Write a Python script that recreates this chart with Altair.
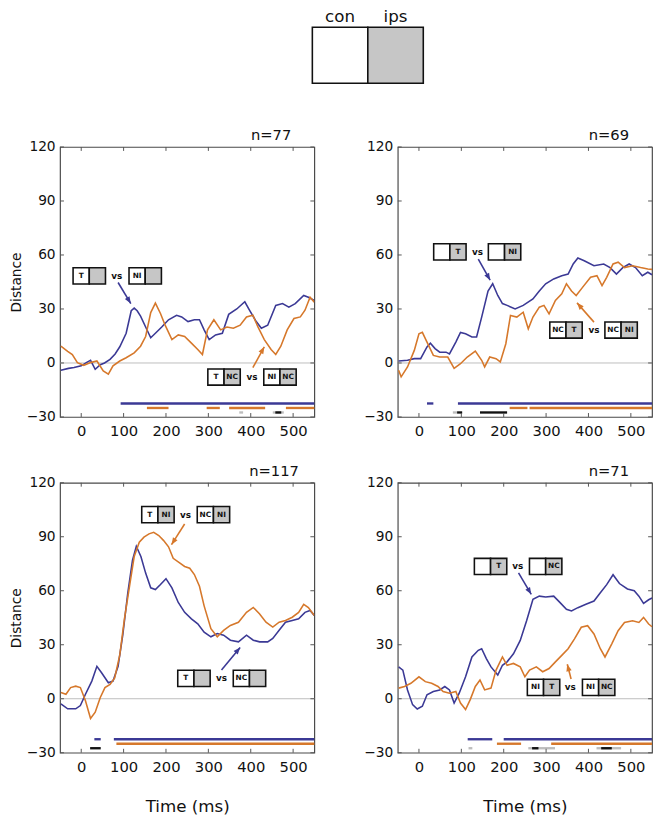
import math
import altair as alt
import pandas as pd

BLUE = "#3b3995"
ORANGE = "#d6782b"
GRAY_FILL = "#c6c6c6"
FONT = "DejaVu Sans"

X_TICKS = [0, 100, 200, 300, 400, 500]
Y_TICKS = [-30, 0, 30, 60, 90, 120]
X_DOMAIN = [-50, 550]
Y_DOMAIN = [-30, 120]
W, H = 259, 275

LEGEND_SIDES = ["con", "ips"]
LEGEND_FILLS = ["#ffffff", GRAY_FILL]

# ---------------- panel 1 (n=77) ----------------
p1_blue_t = [-48, -30, -17, 0, 14, 22, 33, 45, 55, 68, 80, 91, 106, 118, 125, 132, 140, 152, 164, 175,
             190, 206, 225, 237, 252, 267, 279, 290, 302, 317, 333, 348, 367, 386, 398, 413, 425, 440, 459, 475,
             490, 505, 525, 536, 550]
p1_blue_v = [-4, -3, -2.5, -1.6, 0.5, 1.5, -3.5, -1, 0, 2, 5, 9, 16.5, 29, 30.5, 29, 26, 20, 14, 16.5,
             20, 24, 26.5, 25.6, 23, 24, 24, 18.4, 13, 15.6, 16.5, 27, 30, 34, 29, 23, 19.3, 21, 32, 33,
             31, 33, 37.5, 36.5, 34.7]
p1_orange_t = [-48, -32, -21, -9, 6, 22, 37, 52, 64, 75, 91, 106, 125, 140, 152, 164, 175, 187, 198, 214,
               229, 244, 260, 275, 286, 298, 313, 329, 344, 359, 375, 390, 405, 417, 432, 448, 459, 471, 486, 502,
               517, 528, 540, 550]
p1_orange_v = [9.3, 6.5, 4.7, 0.2, -1.3, 0.2, 1.1, -4.4, -6.2, -1.6, 1.1, 2.9, 5.6, 9.3, 14.7, 28, 33.3, 27.5, 21, 13,
               15.6, 14.7, 11, 7.5, 4.7, 18.4, 24, 18.4, 20, 19.3, 21, 25.6, 26.5, 20, 13, 7.5, 4.7, 9.3, 18.4, 24.7,
               25.6, 29.3, 36.5, 33.8]

# ---------------- panel 2 (n=69) ----------------
p2_blue_t = [-48, -27, -11, 4, 19, 27, 38, 49, 64, 72, 87, 98, 110, 125, 136, 148, 163, 174, 186, 197,
             208, 227, 246, 269, 284, 299, 318, 337, 352, 364, 375, 390, 413, 436, 451, 466, 481, 496, 511, 527,
             540, 550]
p2_blue_v = [1.1, 1.5, 2.4, 2.4, 8.9, 11, 8, 6, 6, 5, 11.6, 17, 16.2, 14.4, 14.4, 25.5, 40, 44, 37.5, 33,
             32, 30, 32, 35.6, 40, 44, 46.7, 48.5, 49.4, 55, 58.3, 56.8, 54, 55, 53, 49.4, 53, 55, 53, 48.5,
             50.4, 49]
p2_orange_t = [-48, -42, -27, -11, 0, 8, 19, 34, 49, 68, 83, 98, 114, 133, 148, 155, 167, 182, 192, 205,
               216, 231, 246, 258, 269, 284, 295, 307, 322, 337, 348, 360, 371, 386, 405, 420, 432, 443, 458, 470,
               485, 504, 523, 540, 550]
p2_orange_v = [-4, -7.7, -2.2, 7, 16.2, 17, 11.6, 4.2, 3.3, 3.3, -3, -0.4, 3.3, 6.6, 1.5, -2.2, 3.3, 2.4, 0.6, 10.7,
               26.4, 25.5, 28.2, 19, 25.5, 31, 32, 27.3, 34.7, 38.4, 44, 40, 37.5, 42, 47.6, 48.5, 43, 47.6, 55, 56,
               53, 54, 53, 52.2, 52]

# ---------------- panel 3 (n=117) ----------------
p3_blue_t = [-48, -32, -13, -2, 10, 25, 37, 48, 64, 75, 87, 98, 110, 121, 130, 141, 152, 164, 175, 187,
             200, 214, 229, 244, 260, 275, 290, 306, 321, 336, 352, 371, 390, 406, 421, 440, 452, 467, 482, 498,
             513, 528, 540, 550]
p3_blue_v = [-2.9, -5.6, -5.6, -3.8, 2.5, 9.8, 18, 14.4, 8.9, 9.8, 18, 35.3, 59, 77, 84.7, 78.9, 69.8, 61.6, 60.7, 63.5,
             66.7, 61.6, 53.5, 48, 44.4, 41.6, 37, 34.4, 36.2, 35.3, 32.5, 31.6, 35.3, 32.5, 31.6, 31.6, 33.5, 38, 42.5, 43.5,
             44.4, 48, 49, 46.2]
p3_orange_t = [-48, -36, -25, -13, -2, 10, 22, 33, 45, 56, 68, 79, 91, 102, 114, 125, 137, 148, 160, 171,
               183, 194, 206, 217, 233, 244, 256, 267, 279, 290, 306, 321, 336, 352, 371, 390, 406, 421, 436, 452,
               467, 482, 498, 513, 525, 536, 550]
p3_orange_v = [3.5, 2.5, 6.2, 7, 6.2, -1.1, -11, -7.5, 0.7, 6.2, 8, 11.6, 24.4, 44.4, 62.5, 79, 87, 89.8, 91.6, 92.5,
               90.7, 88, 84.4, 78, 75.3, 73.5, 72.5, 69, 62.5, 51.6, 38.9, 34.4, 38, 40.7, 42.5, 48, 50.7, 47.1, 42.5, 39.8,
               42.5, 43.5, 45.3, 48, 52.5, 50.7, 46.2]

# ---------------- panel 4 (n=71) ----------------
p4_blue_t = [-48, -38, -27, -15, -4, 8, 19, 34, 49, 61, 72, 83, 95, 110, 125, 140, 148, 159, 170, 186,
             197, 208, 223, 239, 254, 269, 284, 299, 318, 333, 348, 360, 375, 394, 413, 428, 443, 458, 473, 492,
             508, 519, 530, 542, 550]
p4_blue_v = [17.7, 15.9, 4.9, -3.3, -5.7, -4.2, 2.2, 4, 4.9, 6.8, 4.9, -2.4, 3.1, 12.2, 23.2, 26.9, 27.8, 22.3, 17.7, 13.2,
             18.6, 20.5, 25, 32.4, 43.3, 55.2, 57, 56.5, 57, 53.4, 49.7, 48.8, 50.6, 52.5, 54.3, 58.9, 63.4, 68.9, 64, 61,
             60, 57, 53, 55, 56]
p4_orange_t = [-48, -34, -19, 0, 15, 30, 45, 57, 72, 87, 98, 110, 121, 133, 144, 155, 170, 182, 197, 208,
               223, 239, 250, 261, 277, 292, 307, 322, 337, 352, 367, 383, 398, 413, 428, 439, 455, 470, 485, 504,
               519, 530, 542, 550]
p4_orange_v = [5.9, 6.8, 8.6, 12.2, 9.5, 8.6, 6.8, 4, 3.1, 4, -2.4, -6, -0.5, 6.8, 10.4, 4.9, 5.9, 15.9, 23.2, 18.6,
               19.6, 17.7, 12.2, 15.9, 17.7, 15, 16.8, 20.5, 24.1, 27.8, 33.3, 39.7, 40.6, 36, 27.8, 23.2, 30.5, 37.8, 42.4, 43.3,
               42.4, 45.2, 41.5, 40]

# significance bars: kind, start ms, end ms
SIG_LEVEL = {"blue": -22.5, "orange": -25, "black": -27.5, "gray": -27.5}
SIG_COLOR = {"blue": BLUE, "orange": ORANGE, "black": "#111111", "gray": "#bdbdbd"}
p1_sig = [("blue", 93, 550), ("orange", 155, 206), ("orange", 296, 327), ("orange", 349, 434),
          ("orange", 483, 550), ("gray", 373, 382), ("gray", 452, 478), ("black", 458, 472)]
p2_sig = [("blue", 19, 34), ("blue", 92, 550), ("orange", 214, 256), ("orange", 261, 550),
          ("gray", 80, 90), ("black", 90, 102), ("black", 144, 208)]
p3_sig = [("blue", 31, 46), ("blue", 77, 550), ("orange", 83, 550), ("black", 21, 46)]
p4_sig = [("blue", 115, 173), ("blue", 200, 550), ("orange", 184, 241), ("orange", 312, 550),
          ("gray", 117, 126), ("gray", 258, 321), ("gray", 419, 477), ("black", 267, 282), ("black", 430, 455)]

# annotations: color, box1 center, box2 center, "vs" position, row value,
#              box1 labels (left cell, right cell), box2 labels, arrow start, arrow end
p1_ann = [("blue", 19, 151, 84, 48.4, ("T", ""), ("NI", ""), (87, 44.7), (117, 33)),
          ("orange", 337, 469, 403, -7.8, ("T", "NC"), ("NI", "NC"), (405, -2.6), (432, 9))]
p2_ann = [("blue", 73, 202, 138, 61.7, ("", "T"), ("", "NI"), (140, 57.7), (168, 46)),
          ("orange", 347, 477, 413, 18.3, ("NC", "T"), ("NC", "NI"), (413, 22.7), (373, 33.4))]
p3_ann = [("orange", 181, 312, 246, 102.3, ("T", "NI"), ("NC", "NI"), (244, 97.1), (213, 85.6)),
          ("blue", 266, 397, 331, 11.3, ("T", ""), ("NC", ""), (331, 16), (375, 28.5))]
p4_ann = [("blue", 169, 299, 233, 73.5, ("", "T"), ("", "NC"), (235, 69.9), (265, 58)),
          ("orange", 294, 424, 357, 6.3, ("NI", "T"), ("NI", "NC"), (359, 11), (350, 19.2))]

COLOR_OF = {"blue": BLUE, "orange": ORANGE}


def panel(blue_t, blue_v, orange_t, orange_v, sig, ann, title, title_x, y_title, x_title):
    xs = alt.Scale(domain=X_DOMAIN, nice=False, zero=False)
    ys = alt.Scale(domain=Y_DOMAIN, nice=False, zero=False)
    x_axis = alt.Axis(values=X_TICKS, ticks=False, domain=False, grid=False, minExtent=0,
                      labelPadding=7, labelFontSize=15, labelFont=FONT, labelColor="#111",
                      titleFontSize=17, titleFont=FONT, titleFontWeight="normal",
                      titlePadding=25, titleColor="#111")
    y_axis = alt.Axis(values=Y_TICKS, ticks=False, domain=False, grid=False, minExtent=0,
                      labelPadding=5, labelFontSize=14, labelFont=FONT, labelColor="#111",
                      titleFontSize=14, titleFont=FONT, titleFontWeight="normal",
                      titlePadding=3, titleColor="#111")

    def X(f):
        return alt.X(f, scale=xs, axis=x_axis, title=x_title)

    def Y(f):
        return alt.Y(f, scale=ys, axis=y_axis, title=y_title)

    line_df = pd.DataFrame({
        "t": blue_t + orange_t,
        "v": blue_v + orange_v,
        "s": ["blue"] * len(blue_t) + ["orange"] * len(orange_t),
    })
    lines = alt.Chart(line_df).mark_line(strokeWidth=1.6, clip=True).encode(
        x=X("t:Q"), y=Y("v:Q"),
        color=alt.Color("s:N", scale=alt.Scale(domain=["blue", "orange"], range=[BLUE, ORANGE]), legend=None),
        detail="s:N",
    )

    zero = alt.Chart(pd.DataFrame({"v": [0]})).mark_rule(color="#b5b5b5", strokeWidth=0.9).encode(y=Y("v:Q"))

    sig_df = pd.DataFrame({
        "k": [s[0] for s in sig],
        "a": [s[1] for s in sig],
        "b": [s[2] for s in sig],
        "lvl": [SIG_LEVEL[s[0]] for s in sig],
    })
    sig_df["order"] = sig_df["k"].map({"gray": 0, "black": 1, "blue": 2, "orange": 2})
    sig_layer = alt.Chart(sig_df).mark_rule(strokeWidth=2.4).encode(
        x=X("a:Q"), x2="b:Q",
        y=Y("lvl:Q"),
        color=alt.Color("k:N", scale=alt.Scale(domain=list(SIG_COLOR.keys()),
                                               range=list(SIG_COLOR.values())), legend=None),
        order="order:Q",
    )

    xt = pd.DataFrame({"t": X_TICKS})
    yt = pd.DataFrame({"v": Y_TICKS})
    tick_style = dict(color="#555", strokeWidth=1)
    ticks = [
        alt.Chart(xt).mark_rule(**tick_style).encode(x=X("t:Q"), y=alt.value(H), y2=alt.value(H - 4)),
        alt.Chart(xt).mark_rule(**tick_style).encode(x=X("t:Q"), y=alt.value(0), y2=alt.value(4)),
        alt.Chart(yt).mark_rule(**tick_style).encode(y=Y("v:Q"), x=alt.value(0), x2=alt.value(4)),
        alt.Chart(yt).mark_rule(**tick_style).encode(y=Y("v:Q"), x=alt.value(W), x2=alt.value(W - 4)),
    ]

    cells, arrows, vs_rows = [], [], []
    px_ms = W / (X_DOMAIN[1] - X_DOMAIN[0])
    px_v = H / (Y_DOMAIN[1] - Y_DOMAIN[0])
    for (col, b1, b2, vsx, yv, lab1, lab2, a0, a1) in ann:
        for bc, lab in ((b1, lab1), (b2, lab2)):
            cells.append({"t": bc, "v": yv, "side": "L", "lab": lab[0]})
            cells.append({"t": bc, "v": yv, "side": "R", "lab": lab[1]})
        vs_rows.append({"t": vsx, "v": yv})
        sx = (a1[0] - a0[0]) * px_ms
        sy = -(a1[1] - a0[1]) * px_v
        ang = math.degrees(math.atan2(sx, -sy)) % 360
        arrows.append({"x0": a0[0], "y0": a0[1], "x1": a1[0], "y1": a1[1], "c": COLOR_OF[col], "ang": ang})
    cell_df = pd.DataFrame(cells)
    arrow_df = pd.DataFrame(arrows)
    vs_df = pd.DataFrame(vs_rows)

    arrow_rule = alt.Chart(arrow_df).mark_rule(strokeWidth=1.6).encode(
        x=X("x0:Q"), x2="x1:Q", y=Y("y0:Q"), y2="y1:Q",
        color=alt.Color("c:N", scale=None))
    arrow_head = alt.Chart(arrow_df).mark_point(
        shape="M0,0L-0.85,2.2L0.85,2.2Z", filled=True, size=42, opacity=1).encode(
        x=X("x1:Q"), y=Y("y1:Q"),
        color=alt.Color("c:N", scale=None), angle=alt.Angle("ang:Q", scale=None))

    left_df = cell_df[cell_df["side"] == "L"]
    right_df = cell_df[cell_df["side"] == "R"]
    box_style = dict(shape="square", size=16.5 ** 2, filled=True, stroke="#111", strokeWidth=1.6, opacity=1)
    left_cells = alt.Chart(left_df).mark_point(fill="#ffffff", xOffset=-8.25, **box_style).encode(
        x=X("t:Q"), y=Y("v:Q"))
    right_cells = alt.Chart(right_df).mark_point(fill=GRAY_FILL, xOffset=8.25, **box_style).encode(
        x=X("t:Q"), y=Y("v:Q"))
    txt_style = dict(font=FONT, fontSize=7.5, fontWeight="bold", baseline="middle", align="center", color="#111")
    left_txt = alt.Chart(left_df).mark_text(dx=-8.25, **txt_style).encode(
        x=X("t:Q"), y=Y("v:Q"), text="lab:N")
    right_txt = alt.Chart(right_df).mark_text(dx=8.25, **txt_style).encode(
        x=X("t:Q"), y=Y("v:Q"), text="lab:N")
    vs_txt = alt.Chart(vs_df).mark_text(font=FONT, fontSize=9, fontWeight="bold", baseline="middle",
                                        align="center", color="#111").encode(
        x=X("t:Q"), y=Y("v:Q"), text=alt.value("vs"))

    n_label = alt.Chart(pd.DataFrame({"n": [title]})).mark_text(
        font=FONT, fontSize=15, align="center", baseline="middle", color="#111").encode(
        x=alt.value(title_x), y=alt.value(-12), text="n:N")

    layers = [zero, sig_layer] + ticks + [lines, arrow_rule, arrow_head,
                                          left_cells, right_cells, left_txt, right_txt, vs_txt, n_label]
    return alt.layer(*layers).properties(
        width=W, height=H,
        view=alt.ViewBackground(stroke="#4a4a4a", strokeWidth=1.2),
    )


legend_df = pd.DataFrame({"side": LEGEND_SIDES, "fill": LEGEND_FILLS})
legend = alt.Chart(legend_df).mark_rect(stroke="#111", strokeWidth=1.6).encode(
    x=alt.X("side:N", sort=LEGEND_SIDES,
            scale=alt.Scale(domain=LEGEND_SIDES, range=[257, 370], paddingInner=0, paddingOuter=0),
            axis=alt.Axis(orient="top", domain=False, ticks=False, labelAngle=0, labelFontSize=17,
                          labelFont=FONT, labelPadding=2, labelColor="#111", title=None, minExtent=0)),
    y=alt.value(0), y2=alt.value(57),
    fill=alt.Fill("fill:N", scale=None),
).properties(width=374, height=77, view=alt.ViewBackground(stroke="transparent"))

p1 = panel(p1_blue_t, p1_blue_v, p1_orange_t, p1_orange_v, p1_sig, p1_ann, "n=77", 215, "Distance", None)
p2 = panel(p2_blue_t, p2_blue_v, p2_orange_t, p2_orange_v, p2_sig, p2_ann, "n=69", 215, None, None)
p3 = panel(p3_blue_t, p3_blue_v, p3_orange_t, p3_orange_v, p3_sig, p3_ann, "n=117", 218, "Distance", "Time (ms)")
p4 = panel(p4_blue_t, p4_blue_v, p4_orange_t, p4_orange_v, p4_sig, p4_ann, "n=71", 215, None, "Time (ms)")

row1 = alt.hconcat(p1, p2, spacing=47)
row2 = alt.hconcat(p3, p4, spacing=47)

chart = alt.vconcat(legend, row1, row2, spacing=24).properties(
    padding={"left": 0, "top": -9, "right": 0, "bottom": 0}
).configure(font=FONT)

chart.save("out.html", embed_options={"renderer": "svg", "actions": False})
